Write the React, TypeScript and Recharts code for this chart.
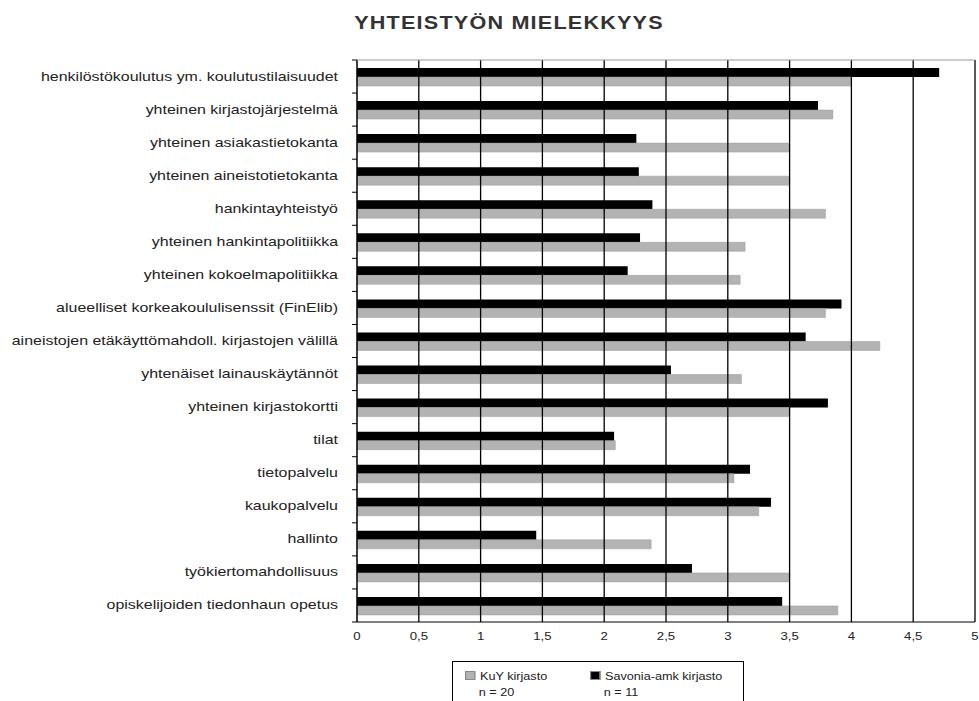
import { Bar, BarChart, ReferenceLine, XAxis, YAxis } from 'recharts'

const categories = [
  'henkilöstökoulutus ym. koulutustilaisuudet',
  'yhteinen kirjastojärjestelmä',
  'yhteinen asiakastietokanta',
  'yhteinen aineistotietokanta',
  'hankintayhteistyö',
  'yhteinen hankintapolitiikka',
  'yhteinen kokoelmapolitiikka',
  'alueelliset korkeakoululisenssit (FinElib)',
  'aineistojen etäkäyttömahdoll. kirjastojen välillä',
  'yhtenäiset lainauskäytännöt',
  'yhteinen kirjastokortti',
  'tilat',
  'tietopalvelu',
  'kaukopalvelu',
  'hallinto',
  'työkiertomahdollisuus',
  'opiskelijoiden tiedonhaun opetus',
]

const savonia = [4.71, 3.73, 2.26, 2.28, 2.39, 2.29, 2.19, 3.92, 3.63, 2.54, 3.81, 2.08, 3.18, 3.35, 1.45, 2.71, 3.44]
const kuy = [4.0, 3.85, 3.5, 3.5, 3.79, 3.14, 3.1, 3.79, 4.23, 3.11, 3.5, 2.09, 3.05, 3.25, 2.38, 3.5, 3.89]

const xTicks = [0, 0.5, 1, 1.5, 2, 2.5, 3, 3.5, 4, 4.5, 5]

const legendItems = [
  { name: 'KuY kirjasto', n: 'n = 20', color: '#b3b3b3' },
  { name: 'Savonia-amk kirjasto', n: 'n = 11', color: '#000' },
]

const data = categories.map((name, i) => ({ name, savonia: savonia[i], kuy: kuy[i] }))

const FONT = '"Liberation Sans", Arial, sans-serif'
const W = 979
const H = 701
const MARGIN = { top: 60, right: 4, left: 0, bottom: 59 }
const Y_AXIS_W = 357
const X_AXIS_H = 20
const PLOT_W = W - MARGIN.left - MARGIN.right - Y_AXIS_W
const PLOT_H = H - MARGIN.top - MARGIN.bottom - X_AXIS_H

// labels in the original are stretched sideways, so scale them a bit
const CategoryTick = (props: any) => {
  const { x, y, payload, index } = props
  const band = PLOT_H / categories.length
  return (
    <g>
      <line x1={x + 3} x2={x + 8} y1={y - band / 2} y2={y - band / 2} stroke="#000" />
      {index === 0 && (
        // grey frame line along the top of the plot
        <line x1={x + 8} x2={x + 8 + PLOT_W} y1={y - band / 2} y2={y - band / 2} stroke="#9a9a9a" />
      )}
      {index === categories.length - 1 && (
        <line x1={x + 3} x2={x + 8} y1={y + band / 2} y2={y + band / 2} stroke="#000" />
      )}
      <text
        transform={`translate(${x - 11},${y}) scale(1.33,1)`}
        dy={4}
        textAnchor="end"
        fontSize={12}
        fill="#222"
        fontFamily={FONT}
      >
        {payload.value}
      </text>
    </g>
  )
}

const XTick = (props: any) => {
  const { x, y, payload } = props
  return (
    <text transform={`translate(${x},${y + 10}) scale(1.2,1)`} textAnchor="middle" fontSize={11} fill="#222" fontFamily={FONT}>
      {String(payload.value).replace('.', ',')}
    </text>
  )
}

const ChartLegend = () => (
  <div
    style={{
      position: 'absolute',
      left: 452,
      top: 661,
      width: 292,
      height: 50,
      border: '1.5px solid #000',
      fontFamily: FONT,
      fontSize: 11,
      color: '#222',
      display: 'flex',
      boxSizing: 'border-box',
      padding: '6px 0 0 12px',
    }}
  >
    {legendItems.map((item) => (
      <div key={item.name} style={{ width: 125, lineHeight: '16px' }}>
        <div style={{ transform: 'scaleX(1.15)', transformOrigin: 'left' }}>
          <span
            style={{
              display: 'inline-block',
              width: 7,
              height: 7,
              background: item.color,
              border: '1px solid #888',
              marginRight: 4,
            }}
          />
          {item.name}
        </div>
        <div style={{ paddingLeft: 12, transform: 'scaleX(1.15)', transformOrigin: 'left' }}>{item.n}</div>
      </div>
    ))}
  </div>
)

export default function App() {
  return (
    <div style={{ position: 'absolute', left: 0, top: 0, width: W, height: H, background: '#fff', overflow: 'hidden' }}>
      <div
        style={{
          position: 'absolute',
          left: 509,
          top: 13,
          transform: 'translateX(-50%) scaleX(1.2)',
          whiteSpace: 'nowrap',
          fontFamily: FONT,
          fontSize: 18,
          fontWeight: 'bold',
          letterSpacing: 1,
          color: '#333',
        }}
      >
        YHTEISTYÖN MIELEKKYYS
      </div>
      <BarChart width={W} height={H} data={data} layout="vertical" margin={MARGIN} barSize={9} barGap={0}>
        {xTicks.slice(1).map((t) => (
          <ReferenceLine key={t} x={t} stroke="#000" strokeWidth={1.3} />
        ))}
        <XAxis
          type="number"
          domain={[0, 5]}
          ticks={xTicks}
          interval={0}
          tickLine={false}
          axisLine={{ stroke: '#000' }}
          height={X_AXIS_H}
          tick={<XTick />}
        />
        <YAxis
          type="category"
          dataKey="name"
          width={Y_AXIS_W}
          interval={0}
          tickLine={false}
          axisLine={{ stroke: '#000', strokeWidth: 1.5 }}
          tick={<CategoryTick />}
        />
        <Bar dataKey="savonia" fill="#000" isAnimationActive={false} />
        <Bar dataKey="kuy" fill="#b3b3b3" stroke="#9a9a9a" strokeWidth={0.5} isAnimationActive={false} />
      </BarChart>
      <ChartLegend />
    </div>
  )
}
